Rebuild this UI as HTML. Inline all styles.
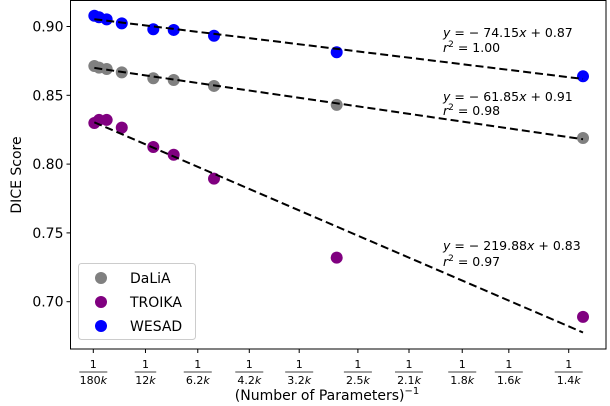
<!DOCTYPE html>
<html><head><meta charset="utf-8">
<style>
html,body{margin:0;padding:0;background:#fff;}
svg{display:block;font-family:"DejaVu Sans","Liberation Sans",sans-serif;}
</style></head>
<body>
<svg id="chart" width="610" height="406" viewBox="0 0 610 406">
<g id="marks"></g>
<g id="axes"></g>
</svg>
<script>
// data (x = inverse parameter count, in 1/k units)
const xTickVals = [1/180, 1/12, 1/6.2, 1/4.2, 1/3.2, 1/2.5, 1/2.1, 1/1.8, 1/1.6, 1/1.4];
const xTickLabels = ["180k","12k","6.2k","4.2k","3.2k","2.5k","2.1k","1.8k","1.6k","1.4k"];
const yTickVals = [0.70, 0.75, 0.80, 0.85, 0.90];
const xWesad = [0.0071,0.0141,0.0255,0.048,0.095,0.1254,0.1855,0.3684,0.7356];
const yWesad = [0.9078,0.9067,0.9052,0.9023,0.898,0.8975,0.8933,0.8813,0.8638];
const xDalia = [0.0071,0.0141,0.0255,0.048,0.095,0.1254,0.1855,0.3684,0.7356];
const yDalia = [0.8713,0.8701,0.8691,0.8667,0.8624,0.8611,0.8568,0.843,0.819];
const xTroika = [0.0071,0.0141,0.0255,0.048,0.095,0.1254,0.1855,0.3684,0.7356];
const yTroika = [0.8299,0.8321,0.8321,0.8265,0.8124,0.8068,0.7894,0.732,0.689];
const seriesNames = ["DaLiA","TROIKA","WESAD"];
const fitSlopes = ["74.15","61.85","219.88"];
const fitIntercepts = ["0.87","0.91","0.83"];
const fitR2 = ["1.00","0.98","0.97"];

const L=70.5,R=606,T=0.5,B=349;
const sx=v=>93.3+(v-1/180)*670.8;
const sy=v=>26.5+(0.90-v)*1376;
const NS="http://www.w3.org/2000/svg";
const marks=document.getElementById('marks'), axes=document.getElementById('axes');
function mk(tag,attrs,parent){const e=document.createElementNS(NS,tag);for(const k in attrs)e.setAttribute(k,attrs[k]);parent.appendChild(e);return e;}

const series=[{n:"dalia",x:xDalia,y:yDalia,c:"#808080"},{n:"troika",x:xTroika,y:yTroika,c:"#800080"},{n:"wesad",x:xWesad,y:yWesad,c:"#0000ff"}];
series.forEach(s=>{
  s.x.forEach((xv,i)=>{
    const c=mk('circle',{cx:sx(xv),cy:sy(s.y[i]),r:6,fill:s.c},marks);
    
    
  });
});
series.forEach(s=>{
  const n=s.x.length,mx=s.x.reduce((a,b)=>a+b)/n,my=s.y.reduce((a,b)=>a+b)/n;
  let sxy=0,sxx=0;s.x.forEach((xv,i)=>{sxy+=(xv-mx)*(s.y[i]-my);sxx+=(xv-mx)**2;});
  const m=sxy/sxx,b=my-m*mx,x0=s.x[0],x1=s.x[n-1];
  const l=mk('line',{x1:sx(x0),y1:sy(m*x0+b),x2:sx(x1),y2:sy(m*x1+b),stroke:"#000","stroke-width":2,"stroke-dasharray":"8,4"},marks);
  
  
});
// annotations
const annY=[[37,52],[101,115],[250,266]];
fitSlopes.forEach((sl,i)=>{
  const t=mk('text',{x:443,y:annY[i][0],"font-size":12.5},marks);
  t.innerHTML='<tspan font-style="italic">y</tspan> = − '+sl+'<tspan font-style="italic">x</tspan> + '+fitIntercepts[i];
  
  
  const r=mk('text',{x:443,y:annY[i][1],"font-size":12.5},marks);
  r.innerHTML='<tspan font-style="italic">r</tspan><tspan dy="-5" font-size="9">2</tspan><tspan dy="5"> = '+fitR2[i]+'</tspan>';
  
  
});
// frame
const fr=mk('rect',{x:L,y:T,width:R-L,height:B-T,fill:"none",stroke:"#000","stroke-width":1},axes);


yTickVals.forEach(v=>{
  const y=sy(v);
  const tk=mk('line',{x1:L-4,y1:y,x2:L,y2:y,stroke:"#000"},axes);
  
  
  const t=mk('text',{x:L-7,y:y+5,"font-size":14,"text-anchor":"end"},axes);
  t.textContent=v.toFixed(2);
  
  
});
xTickVals.forEach((v,i)=>{
  const x=sx(v);
  const tk=mk('line',{x1:x,y1:B,x2:x,y2:B+4,stroke:"#000"},axes);
  
  
  const one=mk('text',{x:x,y:B+19,"font-size":11,"text-anchor":"middle"},axes);
  one.textContent="1";
  
  
  const w=xTickLabels[i].length*6.5+2;
  mk('line',{x1:x-w/2,y1:B+23,x2:x+w/2,y2:B+23,stroke:"#000","stroke-width":0.8},axes);
  const lab=xTickLabels[i];
  const d=mk('text',{x:x,y:B+35,"font-size":11,"text-anchor":"middle"},axes);
  d.innerHTML=lab.slice(0,-1)+'<tspan font-style="italic">k</tspan>';
  
  
});
const xt=mk('text',{x:327,y:400,"font-size":14,"text-anchor":"middle"},axes);
xt.innerHTML='(Number of Parameters)<tspan dy="-6" font-size="10">−1</tspan>';


const yt=mk('text',{x:0,y:0,"font-size":14,"text-anchor":"middle",transform:"translate(21,175) rotate(-90)"},axes);
yt.textContent="DICE Score";


// legend
const lg=mk('g',{},axes);


mk('rect',{x:78.5,y:263.5,width:117,height:76,rx:3,fill:"#fff","fill-opacity":0.8,stroke:"#ccc"},lg);
const legC=["#808080","#800080","#0000ff"];
seriesNames.forEach((nm,i)=>{
  const y=278+i*24;
  const c=mk('circle',{cx:101,cy:y,r:6,fill:legC[i]},lg);
  
  
  const t=mk('text',{x:130,y:y+5,"font-size":14},lg);
  t.textContent=nm;
  
  
});
</script>
</body></html>
